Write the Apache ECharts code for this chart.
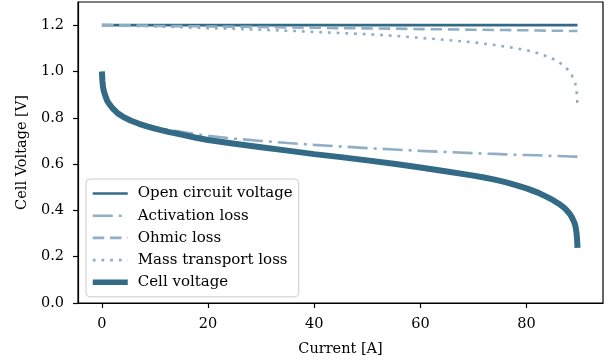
<!DOCTYPE html>
<html>
<head>
<meta charset="utf-8">
<script src="https://cdn.jsdelivr.net/npm/echarts@6/dist/echarts.min.js"></script>
<style>
  html, body { margin: 0; padding: 0; background: #fff; }
  #container { width: 616px; height: 362px; }
</style>
</head>
<body>
<div id="container"></div>
<script>
// current [A], shared by every curve
var current = [0, 0.1, 0.2, 0.35, 0.5, 0.75, 1, 1.5, 2, 3, 4, 5.5, 7, 8.5, 10, 12.5, 15, 17.5, 20, 25, 30, 35, 40, 45, 50, 55, 60, 65, 70, 72, 74, 76, 78, 80, 82, 84, 85, 86, 87, 87.5, 88, 88.5, 89, 89.2, 89.4, 89.5, 89.6];

var openCircuit = [1.2, 1.2, 1.2, 1.2, 1.2, 1.2, 1.2, 1.2, 1.2, 1.2, 1.2, 1.2, 1.2, 1.2, 1.2, 1.2, 1.2, 1.2, 1.2, 1.2, 1.2, 1.2, 1.2, 1.2, 1.2, 1.2, 1.2, 1.2, 1.2, 1.2, 1.2, 1.2, 1.2, 1.2, 1.2, 1.2, 1.2, 1.2, 1.2, 1.2, 1.2, 1.2, 1.2, 1.2, 1.2, 1.2, 1.2];
var activation = [1.000, 0.960, 0.935, 0.918, 0.906, 0.889, 0.874, 0.857, 0.843, 0.822, 0.807, 0.791, 0.779, 0.769, 0.760, 0.748, 0.739, 0.730, 0.722, 0.710, 0.700, 0.691, 0.683, 0.676, 0.669, 0.663, 0.657, 0.652, 0.647, 0.645, 0.644, 0.642, 0.640, 0.639, 0.638, 0.636, 0.635, 0.635, 0.634, 0.634, 0.633, 0.633, 0.632, 0.632, 0.632, 0.632, 0.632];
var ohmic = [1.200, 1.200, 1.200, 1.200, 1.200, 1.200, 1.200, 1.200, 1.199, 1.199, 1.199, 1.198, 1.198, 1.198, 1.197, 1.196, 1.196, 1.195, 1.194, 1.193, 1.192, 1.190, 1.189, 1.187, 1.186, 1.185, 1.183, 1.182, 1.180, 1.180, 1.179, 1.179, 1.178, 1.178, 1.177, 1.176, 1.176, 1.176, 1.176, 1.175, 1.175, 1.175, 1.175, 1.175, 1.175, 1.175, 1.175];
var massTransport = [1.200, 1.200, 1.200, 1.200, 1.200, 1.200, 1.199, 1.199, 1.199, 1.198, 1.198, 1.197, 1.196, 1.195, 1.194, 1.193, 1.191, 1.189, 1.187, 1.184, 1.180, 1.176, 1.171, 1.166, 1.161, 1.154, 1.145, 1.136, 1.126, 1.120, 1.114, 1.107, 1.100, 1.092, 1.080, 1.064, 1.054, 1.042, 1.024, 1.014, 1.003, 0.985, 0.959, 0.945, 0.921, 0.890, 0.848];
var cellVoltage = [1.000, 0.960, 0.934, 0.917, 0.905, 0.888, 0.873, 0.856, 0.841, 0.819, 0.804, 0.787, 0.774, 0.763, 0.753, 0.739, 0.727, 0.715, 0.704, 0.688, 0.673, 0.658, 0.643, 0.630, 0.616, 0.601, 0.585, 0.568, 0.550, 0.542, 0.533, 0.522, 0.509, 0.495, 0.478, 0.456, 0.444, 0.430, 0.413, 0.402, 0.389, 0.372, 0.348, 0.333, 0.305, 0.280, 0.238];

var xTicks = [0, 20, 40, 60, 80];
var yTicks = [0, 0.2, 0.4, 0.6, 0.8, 1.0, 1.2];

var dark = '#336b87';
var light = '#90afc5';
var font = 'DejaVu Serif';

function pairs(ys) {
    return current.map(function (x, i) { return [x, ys[i]]; });
}

function curve(name, ys, color, width, dash) {
    return {
        name: name, type: 'line', symbol: 'none',
        data: pairs(ys),
        lineStyle: { color: color, width: width, type: dash || 'solid' },
        itemStyle: { color: color }
    };
}

var myChart = echarts.init(document.getElementById('container'));
var option = {
    animation: false,
    textStyle: { fontFamily: font },
    grid: {
        left: 78, right: 13, top: 2, bottom: 58.5,
        show: true, borderColor: '#000', borderWidth: 1.2
    },
    legend: {
        orient: 'vertical',
        left: 86, top: 179,
        itemWidth: 35, itemHeight: 14, itemGap: 7.2,
        padding: [7, 6, 7, 4],
        borderColor: '#cccccc', borderWidth: 1, borderRadius: 4,
        backgroundColor: 'rgba(255,255,255,0.8)',
        itemStyle: { opacity: 0 },
        textStyle: { fontFamily: font, fontSize: 15, color: '#000', padding: [0, 0, 0, 5] },
        data: [
            { name: 'Open circuit voltage', lineStyle: { width: 2.6 } },
            { name: 'Activation loss', lineStyle: { width: 2.6 } },
            { name: 'Ohmic loss', lineStyle: { width: 2.6 } },
            { name: 'Mass transport loss', lineStyle: { width: 2.6 } },
            { name: 'Cell voltage', lineStyle: { width: 5.5 } }
        ]
    },
    xAxis: {
        type: 'value',
        min: -4.5, max: 94.4,
        name: 'Current [A]', nameLocation: 'middle', nameGap: 39,
        nameTextStyle: { fontFamily: font, fontSize: 14.5, color: '#000' },
        axisLine: { show: true, onZero: false, lineStyle: { color: '#000', width: 1.2 } },
        axisTick: { show: true, length: 5, lineStyle: { color: '#000', width: 1.2 }, customValues: xTicks },
        axisLabel: { customValues: xTicks, margin: 14, fontFamily: font, fontSize: 14.5, color: '#000' },
        splitLine: { show: false }
    },
    yAxis: {
        type: 'value',
        min: 0, max: 1.3,
        name: 'Cell Voltage [V]', nameLocation: 'middle', nameGap: 48, nameRotate: 90,
        nameTextStyle: { fontFamily: font, fontSize: 14.5, color: '#000' },
        axisLine: { show: true, onZero: false, lineStyle: { color: '#000', width: 1.2 } },
        axisTick: { show: true, length: 5, lineStyle: { color: '#000', width: 1.2 }, customValues: yTicks },
        axisLabel: {
            customValues: yTicks, margin: 14, fontFamily: font, fontSize: 14.5, color: '#000',
            formatter: function (v) { return v.toFixed(1); }
        },
        splitLine: { show: false }
    },
    series: [
        curve('Open circuit voltage', openCircuit, dark, 2.6),
        curve('Activation loss', activation, light, 2.6, [20, 6, 3, 6]),
        curve('Ohmic loss', ohmic, light, 2.6, [11.5, 5.8]),
        curve('Mass transport loss', massTransport, light, 2.6, [2.8, 5.9]),
        curve('Cell voltage', cellVoltage, dark, 6)
    ]
};
myChart.setOption(option);
</script>
</body>
</html>
